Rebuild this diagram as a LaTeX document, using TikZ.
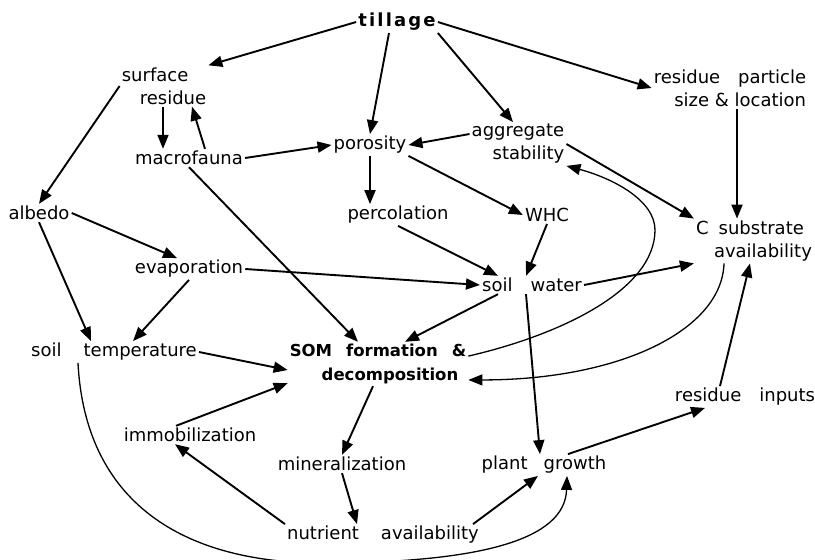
\documentclass[tikz,border=0pt]{standalone}
\usepackage{fontspec}
\setmainfont{DejaVu Sans}
\newfontfamily\spacedfont[LetterSpace=12]{DejaVu Sans}
\usetikzlibrary{arrows,arrows.meta}

\begin{document}
\begin{tikzpicture}[x=1pt,y=-1pt,
lbl/.style={font=\fontsize{18}{23}\selectfont,inner sep=2pt},
boldlbl/.style={font=\fontsize{16.5}{24}\selectfont\bfseries,inner sep=2pt},
arrow/.style={-{Triangle[length=14pt,width=11pt]},line width=1.9pt},
bentarrow/.style={arrow,line width=1.3pt} ]

\useasboundingbox (0,0) rectangle (815,560);

\node[lbl] (till) at (397,22) {\spacedfont\bfseries tillage};

\node[lbl,align=left] (surf) at (164,86) {surface\\\hspace*{18pt}residue};

\node[lbl] (macro) at (189,158) {macrofauna};

\node[lbl] (poro) at (370,145) {porosity};

\node[lbl,align=right] (aggr) at (518,144) {aggregate\\stability};

\node[lbl,align=right] (resp) at (730,88) {residue\hspace{18pt}particle\\size \& location};

\node[lbl] (albedo) at (39,213) {albedo};

\node[lbl] (perc) at (398,215) {percolation};

\node[lbl] (whc) at (547,215) {WHC};

\node[lbl,align=right] (csub) at (754,241) {C\hspace{10pt}substrate\hspace*{8pt}\\availability};

\node[lbl] (evap) at (189,269) {evaporation};

\node[lbl] (sw) at (532,285) {soil\hspace{18pt}water};

\node[lbl] (stemp) at (114,352) {soil\hspace{22pt}temperature};

\node[boldlbl,align=center] (som) at (378,364) {SOM\hspace{14pt}formation\hspace{14pt}\&\\\hspace*{24pt}decomposition};

\node[lbl] (immob) at (190,435) {immobilization};

\node[lbl] (miner) at (342,464) {mineralization};

\node[lbl] (nutr) at (383,535) {nutrient\hspace{22pt}availability};

\node[lbl] (plant) at (544,465) {plant\hspace{16pt}growth};

\node[lbl] (resin) at (745,397) {residue\hspace{18pt}inputs};

% tillage effects
\draw[arrow] (till.west) -- (surf.north east);
\draw[arrow] ([xshift=-8pt]till.south) -- (poro.north);
\draw[arrow] (till.south east) -- ([xshift=-5pt]aggr.north);
\draw[arrow] (till.east) -- (resp.west);

\draw[arrow] (surf.west) -- (albedo.north);
\draw[arrow] ([xshift=-1pt]surf.south) -- ([xshift=-26pt]macro.north);
\draw[arrow] ([xshift=16pt]macro.north) -- ([xshift=28pt]surf.south);
\draw[arrow] (macro.east) -- (poro.west);
\draw[arrow] (macro.south) -- ([xshift=-20pt]som.north);

\draw[arrow] ([yshift=10pt]aggr.west) -- (poro.east);
\draw[arrow] (poro.south) -- (poro.south |- perc.north);
\draw[arrow] (poro.south east) -- (whc.west);
\draw[arrow] (aggr.east) -- (csub.north west);
\draw[arrow] ([xshift=7pt]resp.south) -- ([xshift=7pt]resp.south |- csub.north);

\draw[arrow] (albedo.east) -- ([xshift=-12pt]evap.north);
\draw[arrow] (albedo.south) -- ([xshift=-23pt]stemp.north);
\draw[arrow] (evap.south) -- ([xshift=19pt]stemp.north);
\draw[arrow] (evap.east) -- (sw.west);
\draw[arrow] (perc.south) -- ([xshift=-34pt]sw.north);
\draw[arrow] (whc.south) -- ([xshift=-6pt]sw.north);

\draw[arrow] (sw.east) -- (csub.south west);
\draw[arrow] ([xshift=-34pt]sw.south) -- ([xshift=27pt]som.north);
\draw[arrow] ([xshift=-6pt]sw.south) -- ([xshift=-4pt]plant.north);

% feedback curves
\draw[bentarrow] (som.5) .. controls (560,335) and (655,290) .. (655,230)
  .. controls (655,200) and (612,178) .. (aggr.south east);
\draw[bentarrow] ([xshift=-30pt]csub.south) .. controls (722,330) and (620,380) .. (som.-10);
\draw[bentarrow] ([xshift=-36pt]stemp.south) .. controls (85,500) and (180,565) .. (330,563)
  .. controls (480,562) and (565,540) .. ([xshift=23pt]plant.south);

\draw[arrow] ([xshift=-25pt]resin.north) -- ([xshift=-4pt]csub.south);
\draw[arrow] ([xshift=24pt]plant.north) -- ([xshift=-40pt]resin.south);
\draw[arrow] ([xshift=-8pt]nutr.north east) -- ([xshift=-6pt]plant.south);

\draw[arrow] (nutr.north west) -- ([xshift=-15pt]immob.south);
\draw[arrow] ([xshift=-14pt]immob.north) -- (som.192);
\draw[arrow] (stemp.east) -- ([yshift=-6pt]som.west);
\draw[arrow] ([xshift=-5pt]som.south) -- (miner.north);
\draw[arrow] (miner.south) -- ([xshift=-26pt]nutr.north);

\end{tikzpicture}
\end{document}
